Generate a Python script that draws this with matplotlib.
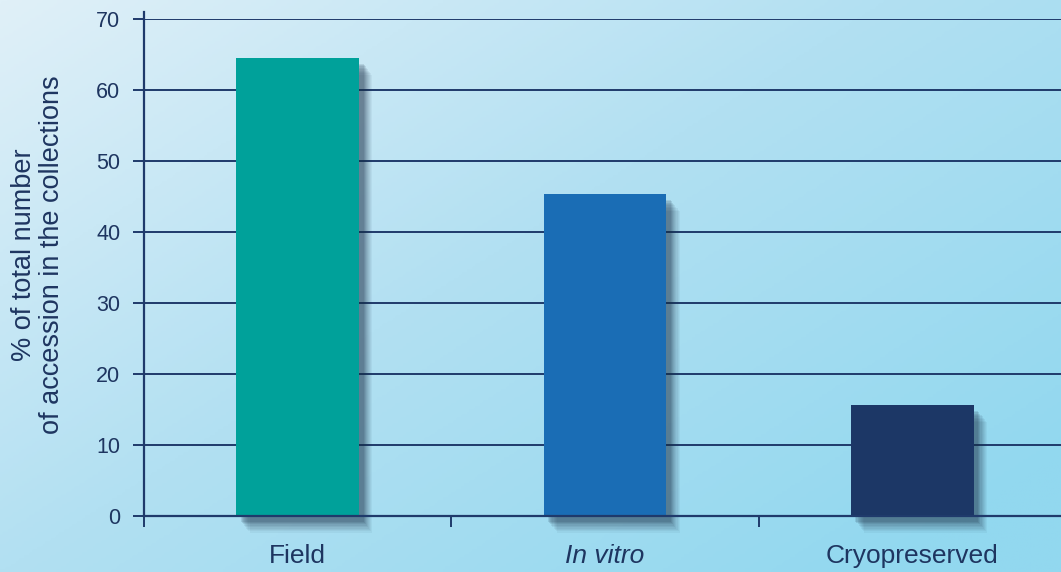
import numpy as np
import matplotlib
matplotlib.use("Agg")
import matplotlib.pyplot as plt
import matplotlib.patheffects as pe
from matplotlib.colors import LinearSegmentedColormap

categories = ["Field", "In vitro", "Cryopreserved"]
values = [64.5, 45.3, 15.6]
bar_colors = ["#00a19a", "#1a6db5", "#1c3766"]
yticks = [0, 10, 20, 30, 40, 50, 60, 70]
ylabel = "% of total number\nof accession in the collections"

plt.rcParams['font.family'] = ['Liberation Sans', 'DejaVu Sans']
navy = "#1f3a6b"
text_col = "#1e3560"

W, H = 1061, 572
fig = plt.figure(figsize=(W / 100, H / 100), dpi=100)

# background gradient
bg = fig.add_axes([0, 0, 1, 1], zorder=-10)
yy, xx = np.mgrid[0:1:200j, 0:1:400j]
t = np.clip(0.6 * xx + 0.5 * yy, 0, 1)
cmap = LinearSegmentedColormap.from_list("bg", ["#e0f0f8", "#b2e0f2", "#92d8ef"])
bg.imshow(t, cmap=cmap, aspect="auto", extent=[0, 1, 0, 1], origin="upper")
bg.axis("off")

x0 = 144 / W
x1 = 1066 / W
y0 = 1 - 516 / H
y1 = 1 - 19 / H
ax = fig.add_axes([x0, y0, x1 - x0, y1 - y0])
ax.patch.set_alpha(0)

xpos = np.arange(len(categories))
bars = ax.bar(xpos, values, width=0.4, color=bar_colors, zorder=3)
shadow = []
for k, a in [(12, 0.05), (11, 0.05), (10, 0.06), (9, 0.06), (8, 0.07), (7, 0.08), (6, 0.1), (5, 0.12), (4, 0.12)]:
    shadow.append(pe.SimplePatchShadow(offset=(k * 0.8, -k), shadow_rgbFace="#1a2e45", alpha=a))
for b in bars:
    b.set_clip_on(False)
    b.set_path_effects(shadow + [pe.Normal()])

ax.set_xlim(-0.5, 2.5)
ax.set_ylim(0, 70)
ax.set_yticks(yticks)
ax.set_yticklabels([str(v) for v in yticks], fontsize=15.5, color=text_col)
ax.yaxis.grid(True, color=navy, linewidth=1.4, zorder=1)
ax.set_axisbelow(True)

ax.set_xticks([-0.5, 0.5, 1.5])
ax.set_xticklabels([])
ax.set_xticks(xpos, minor=True)
ax.set_xticklabels(categories, minor=True, fontsize=19, color=text_col)
ax.get_xticklabels(minor=True)[1].set_fontstyle("italic")
ax.tick_params(axis="x", which="minor", length=0, pad=20)
ax.tick_params(axis="x", which="major", length=8, width=1.4, color=navy, direction="out")
ax.tick_params(axis="y", length=8, width=1.4, color=navy, pad=9)

for s in ["top", "right"]:
    ax.spines[s].set_visible(False)
for s in ["left", "bottom"]:
    ax.spines[s].set_color(navy)
    ax.spines[s].set_linewidth(1.6)
ax.spines["left"].set_bounds(0, 71)
ax.spines["bottom"].set_zorder(4)

fig.text(38 / W, 1 - 255 / H, ylabel, rotation=90, ha="center", va="center",
         fontsize=19.5, color=text_col, linespacing=1.1)

fig.savefig("out.png", dpi=100)
